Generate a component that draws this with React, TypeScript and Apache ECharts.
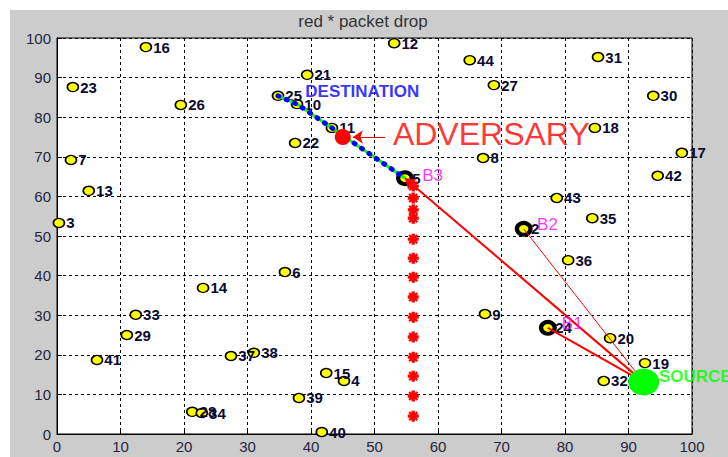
import React, { useEffect, useRef } from 'react';
import * as echarts from 'echarts';

// node ids 1..44 with their positions
const nodeIds = [
  1, 2, 3, 4, 5, 6, 7, 8, 9, 10, 11, 12, 13, 14, 15, 16, 17, 18, 19, 20, 21, 22,
  23, 24, 25, 26, 27, 28, 29, 30, 31, 32, 33, 34, 35, 36, 37, 38, 39, 40, 41, 42, 43, 44,
];
const nodeX = [
  92.4, 73.5, 0.3, 45.2, 54.8, 35.9, 2.2, 67.1, 67.4, 37.8, 43.3, 53.1, 5.0, 23.0, 42.4,
  14.0, 98.4, 84.7, 92.6, 87.1, 39.4, 37.5, 2.5, 77.3, 34.8, 19.5, 68.8, 21.3, 11.0, 93.9,
  85.2, 86.1, 12.4, 22.8, 84.3, 80.5, 27.4, 31.0, 38.1, 41.7, 6.3, 94.6, 78.7, 65.0,
];
const nodeY = [
  13.1, 51.8, 53.3, 13.4, 64.6, 40.9, 69.2, 69.7, 30.3, 83.3, 77.3, 98.7, 61.4, 36.9, 15.4,
  97.7, 71.0, 77.3, 17.9, 24.2, 90.7, 73.5, 87.6, 26.8, 85.4, 83.1, 88.1, 5.6, 25.0, 85.4,
  95.2, 13.4, 30.1, 5.3, 54.5, 43.9, 19.7, 20.5, 9.1, 0.5, 18.7, 65.2, 59.6, 94.4,
];
// node hidden under the source marker (its label is not visible)
const hiddenLabelNodes = [1];

const beaconNodes = [24, 2, 5];
const beaconNames = ['B1', 'B2', 'B3'];
const beaconLabelX = [79.5, 75.6, 57.5];
const beaconLabelY = [27.8, 52.8, 65.4];

const routeNodes = [25, 10, 11, 5];

const sourcePos = [92.4, 13.1];
const adversaryPos = [45.0, 75.0];
const adversaryArrowFrom = [51.7, 75.0];
const adversaryArrowTo = [46.6, 75.0];
const adversaryLabelPos = [52.9, 75.8];
const destinationLabelPos = [39.1, 86.4];
const sourceLabelPos = [94.8, 14.4];

const dropX = 56.1;
const dropY = [62.6, 59.6, 56.6, 54.5, 49.2, 44.4, 39.6, 34.6, 29.5, 24.5, 19.4, 14.6, 9.6, 4.5];

const xTicks = { min: 0, max: 100, interval: 10 };
const yTicks = { min: 0, max: 100, interval: 10 };

const FONT = 'Liberation Sans, Arial, sans-serif';

const posOf = (id: number) => {
  const i = nodeIds.indexOf(id);
  return [nodeX[i], nodeY[i]];
};

const asterisk =
  'path://M3.5,0 L6.5,0 L6.5,10 L3.5,10 Z M0,3.5 L10,3.5 L10,6.5 L0,6.5 Z ' +
  'M2,0.6 L9.4,8 L8,9.4 L0.6,2 Z M8,0.6 L9.4,2 L2,9.4 L0.6,8 Z';

export default function App() {
  const ref = useRef<HTMLDivElement>(null);

  useEffect(() => {
    if (!ref.current) return;
    const chart = echarts.init(ref.current, null, { renderer: 'svg' });

    const axisCommon = {
      type: 'value' as const,
      axisLine: { show: true, lineStyle: { color: '#000', width: 1 } },
      axisTick: { show: true, inside: true, length: 5, lineStyle: { color: '#000' } },
      splitLine: { show: true, lineStyle: { color: '#000', width: 1, type: [3, 3] } },
      axisLabel: { color: '#26263f', fontSize: 15, fontFamily: FONT },
    };

    const option: any = {
      animation: false,
      backgroundColor: '#cccccc',
      textStyle: { fontFamily: FONT },
      graphic: [
        {
          type: 'text',
          x: 353,
          y: 11,
          style: {
            text: 'red * packet drop',
            align: 'center',
            verticalAlign: 'middle',
            fontSize: 17,
            fontFamily: FONT,
            fill: '#333',
          },
        },
      ],
      grid: {
        left: 47,
        top: 28,
        right: 36,
        bottom: 23,
        show: true,
        backgroundColor: '#ffffff',
        borderColor: '#000',
        borderWidth: 1,
      },
      xAxis: { ...axisCommon, ...xTicks, axisLabel: { ...axisCommon.axisLabel, margin: 5 } },
      yAxis: { ...axisCommon, ...yTicks, axisLabel: { ...axisCommon.axisLabel, margin: 6 } },
      series: [
        {
          name: 'beaconRing',
          type: 'scatter',
          clip: false,
          z: 1,
          symbol: 'circle',
          symbolSize: [18, 16],
          itemStyle: { color: '#000', opacity: 1 },
          data: beaconNodes.map((id) => posOf(id)),
        },
        {
          name: 'nodes',
          type: 'scatter',
          clip: false,
          z: 2,
          symbol: 'circle',
          symbolSize: [11, 9],
          itemStyle: { color: '#ffff00', borderColor: '#000', borderWidth: 1.5, opacity: 1 },
          label: {
            show: true,
            position: 'right',
            distance: 1,
            formatter: (p: any) => String(p.value[2]),
            color: '#0a0a30',
            fontSize: 15,
            fontWeight: 'bold',
            fontFamily: FONT,
          },
          data: nodeIds.map((id, i) => ({
            value: [nodeX[i], nodeY[i], id],
            label: { show: hiddenLabelNodes.indexOf(id) < 0 },
          })),
        },
        {
          name: 'drops',
          type: 'scatter',
          clip: false,
          z: 3,
          symbol: asterisk,
          symbolSize: 11,
          itemStyle: { color: '#ff0000', opacity: 1 },
          data: dropY.map((y) => [dropX, y]),
        },
        {
          name: 'routeGreen',
          type: 'line',
          z: 3,
          symbol: 'none',
          lineStyle: { color: '#00ff00', width: 3 },
          data: routeNodes.map((id) => posOf(id)),
        },
        {
          name: 'routeBlue',
          type: 'line',
          z: 4,
          symbol: 'none',
          lineStyle: { color: '#0000ff', width: 5, type: [1, 8], cap: 'round' },
          data: routeNodes.map((id) => posOf(id)),
        },
        {
          name: 'links',
          type: 'lines',
          coordinateSystem: 'cartesian2d',
          z: 3,
          symbol: ['none', 'none'],
          lineStyle: { color: '#ff0000', width: 2, opacity: 1 },
          data: [
            { coords: [sourcePos, posOf(24)], lineStyle: { width: 2 } },
            { coords: [sourcePos, posOf(2)], lineStyle: { width: 1 } },
            {
              coords: [sourcePos, posOf(5)],
              lineStyle: { width: 2 },
              symbol: ['none', 'arrow'],
              symbolSize: 10,
            },
          ],
        },
        {
          name: 'advArrow',
          type: 'lines',
          coordinateSystem: 'cartesian2d',
          z: 5,
          symbol: ['none', 'arrow'],
          symbolSize: 10,
          lineStyle: { color: '#ff0000', width: 1, opacity: 1 },
          data: [{ coords: [adversaryArrowFrom, adversaryArrowTo] }],
        },
        {
          name: 'source',
          type: 'scatter',
          clip: false,
          z: 6,
          symbol: 'circle',
          symbolSize: [31, 27],
          itemStyle: { color: '#00ff00', opacity: 1 },
          data: [sourcePos],
        },
        {
          name: 'adversary',
          type: 'scatter',
          clip: false,
          z: 6,
          symbol: 'circle',
          symbolSize: 16,
          itemStyle: { color: '#ff0000', opacity: 1 },
          data: [adversaryPos],
        },
        {
          name: 'texts',
          type: 'scatter',
          clip: false,
          z: 7,
          symbolSize: 0,
          silent: true,
          label: {
            show: true,
            position: 'right',
            distance: 0,
            formatter: (p: any) => p.data.t,
          },
          data: [
            {
              value: adversaryLabelPos,
              t: 'ADVERSARY',
              label: { color: '#ff0000', fontSize: 32, fontFamily: FONT },
            },
            {
              value: destinationLabelPos,
              t: 'DESTINATION',
              label: { color: '#0000ff', fontSize: 17, fontWeight: 'bold', fontFamily: FONT },
            },
            {
              value: sourceLabelPos,
              t: 'SOURCE',
              label: { color: '#00ff00', fontSize: 17, fontWeight: 'bold', fontFamily: FONT },
            },
            ...beaconNames.map((b, i) => ({
              value: [beaconLabelX[i], beaconLabelY[i]],
              t: b,
              label: { color: '#ff00ff', fontSize: 17, fontFamily: FONT },
            })),
          ],
        },
      ],
    };

    chart.setOption(option);
    return () => chart.dispose();
  }, []);

  return (
    <div style={{ position: 'absolute', left: 0, top: 0, width: 728, height: 457, background: '#fff' }}>
      <div
        ref={ref}
        style={{ position: 'absolute', left: 10, top: 10, width: 718, height: 447 }}
      />
    </div>
  );
}
